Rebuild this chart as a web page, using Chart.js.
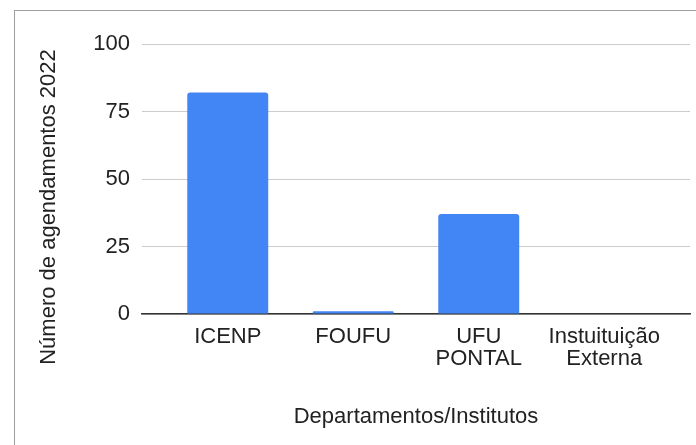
<!DOCTYPE html>
<html>
<head>
<meta charset="utf-8">
<script src="https://cdn.jsdelivr.net/npm/chart.js@4"></script>
<style>
  html, body { margin: 0; padding: 0; width: 696px; height: 445px; overflow: hidden; background: #fff; }
  #frame { position: absolute; left: 14px; top: 10px; width: 900px; height: 900px; border-left: 1px solid #9e9e9e; border-top: 1px solid #9e9e9e; }
  #c { position: absolute; left: 0; top: 0; }
</style>
</head>
<body>
<div id="frame"></div>
<canvas id="c" width="696" height="445"></canvas>
<script>
// ---- data ----
const categories = ['ICENP', 'FOUFU', 'UFU PONTAL', 'Instuituição Externa'];
const xTickLabels = [['ICENP'], ['FOUFU'], ['UFU', 'PONTAL'], ['Instuituição', 'Externa']];
const agendamentos = [82, 1, 37, 0];
const yTickValues = [0, 25, 50, 75, 100];
const yTitle = 'Número de agendamentos 2022';
const xTitle = 'Departamentos/Institutos';

const FONT = '"Liberation Sans", Arial, sans-serif';
const TEXT = '#222';

const yTitlePlugin = {
  id: 'yTitlePlugin',
  afterDraw(chart) {
    const ctx = chart.ctx;
    const area = chart.chartArea;
    ctx.save();
    ctx.translate(55, (area.top + area.bottom) / 2 + 28);
    ctx.rotate(-Math.PI / 2);
    ctx.font = '22px ' + FONT;
    ctx.fillStyle = TEXT;
    ctx.textAlign = 'center';
    ctx.textBaseline = 'alphabetic';
    ctx.fillText(yTitle, 0, 0);
    ctx.restore();
  }
};

const pad = 23 / 125.5;

new Chart(document.getElementById('c'), {
  type: 'bar',
  data: {
    datasets: [{
      label: yTitle,
      data: agendamentos.map((v, i) => ({ x: i, y: v })),
      backgroundColor: '#4285F4',
      borderWidth: 0,
      borderRadius: { topLeft: 3, topRight: 3, bottomLeft: 0, bottomRight: 0 },
      borderSkipped: 'bottom',
      categoryPercentage: 1,
      barPercentage: 0.645
    }]
  },
  options: {
    responsive: false,
    animation: false,
    devicePixelRatio: 1,
    layout: { padding: { top: 44, right: 6, bottom: 0, left: 0 } },
    plugins: { legend: { display: false }, tooltip: { enabled: false }, title: { display: false } },
    scales: {
      x: {
        type: 'linear',
        offset: false,
        min: -0.5 - pad,
        max: categories.length - 0.5 + pad,
        afterBuildTicks(scale) { scale.ticks = categories.map((c, i) => ({ value: i })); },
        afterFit(scale) { scale.height = 131; scale.paddingLeft = 0; scale.paddingRight = 0; },
        grid: { display: false, drawTicks: false, offset: false },
        border: { display: true, color: '#333', width: 1.5 },
        ticks: {
          autoSkip: false, maxRotation: 0, padding: 12,
          color: TEXT,
          font: { family: FONT, size: 22, lineHeight: 1.0 },
          callback: (v) => xTickLabels[v]
        },
        title: {
          display: true, text: xTitle, color: TEXT,
          font: { family: FONT, size: 22 },
          padding: { top: 0, bottom: 15 }
        }
      },
      y: {
        min: 0, max: 100,
        afterBuildTicks(scale) { scale.ticks = yTickValues.map(v => ({ value: v })); },
        afterFit(scale) { scale.width = 142; scale.paddingTop = 0; scale.paddingBottom = 0; },
        grid: { color: '#cccccc', lineWidth: 1, drawTicks: false },
        border: { display: false },
        ticks: {
          padding: 12, color: TEXT,
          font: { family: FONT, size: 22 }
        },
        title: { display: false }
      }
    }
  },
  plugins: [yTitlePlugin]
});
</script>
</body>
</html>
